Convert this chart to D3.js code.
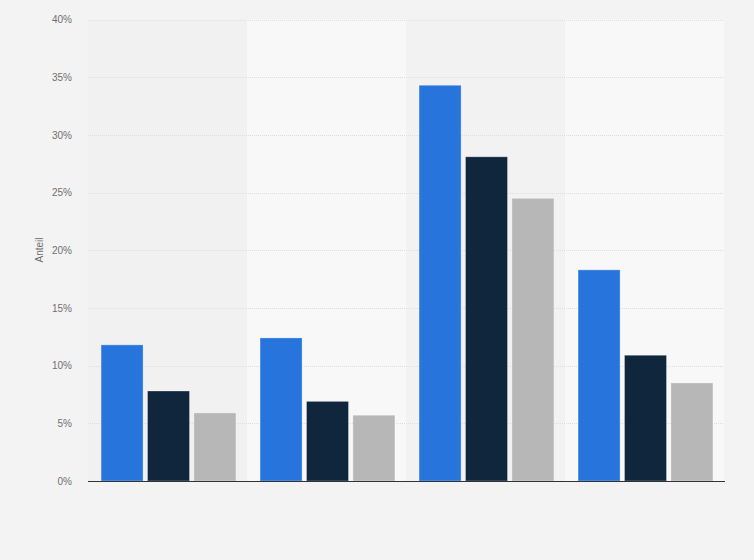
<!DOCTYPE html>
<html>
<head>
<meta charset="utf-8">
<script src="https://cdn.jsdelivr.net/npm/d3@7"></script>
<style>
  html, body { margin: 0; padding: 0; background: #f3f3f3; }
  svg { display: block; font-family: "Liberation Sans", Arial, sans-serif; }
</style>
</head>
<body>
<svg id="chart" width="754" height="560"></svg>
<script>
const categories = ["G1", "G2", "G3", "G4"];
const seriesNames = ["Serie 1", "Serie 2", "Serie 3"];
const series1 = [11.8, 12.4, 34.3, 18.3];
const series2 = [7.8, 6.9, 28.1, 10.9];
const series3 = [5.9, 5.7, 24.5, 8.5];
const yTicks = [0, 5, 10, 15, 20, 25, 30, 35, 40];
const colors = ["#2775dc", "#10263d", "#b7b7b7"];
const bandColors = ["#f1f1f1", "#f8f8f8", "#f2f2f2", "#f8f8f8"];

const allSeries = [series1, series2, series3];
const svg = d3.select("#chart");
const plotLeft = 88, plotRight = 724, plotTop = 19.5, plotBottom = 481;

const x0 = d3.scaleBand().domain(categories).range([plotLeft, plotRight]).paddingInner(0).paddingOuter(0);
const x1 = d3.scaleBand().domain(seriesNames).range([1, x0.bandwidth() + 1]).paddingInner(0.095).paddingOuter(0.26);
const y = d3.scaleLinear().domain([0, 40]).range([plotBottom, plotTop]);

// bands
svg.append("g").selectAll("rect").data(categories).join("rect")
  .attr("x", d => x0(d)).attr("y", plotTop)
  .attr("width", x0.bandwidth()).attr("height", plotBottom - plotTop)
  .attr("fill", (d, i) => bandColors[i]);

// grid
svg.append("g").selectAll("line").data(yTicks.filter(t => t > 0)).join("line")
  .attr("x1", plotLeft).attr("x2", plotRight)
  .attr("y1", d => Math.round(y(d)) + 0.5).attr("y2", d => Math.round(y(d)) + 0.5)
  .attr("stroke", "#dedede").attr("stroke-width", 1).attr("stroke-dasharray", "1,1");

// y axis labels
const yAxis = d3.axisLeft(y).tickValues(yTicks).tickFormat(d => d + "%").tickSize(0).tickPadding(0);
const ga = svg.append("g").attr("transform", `translate(${72},0)`).call(yAxis);
ga.select(".domain").remove();
ga.selectAll("text").attr("fill", "#707070").attr("font-size", "10px")
  .attr("font-family", "Liberation Sans, Arial, sans-serif");

// bars
const groups = svg.append("g").selectAll("g").data(categories).join("g")
  .attr("transform", d => `translate(${x0(d)},0)`);
groups.selectAll("rect").data((d, i) => allSeries.map((s, k) => ({ k, v: s[i] }))).join("rect")
  .attr("x", d => x1(seriesNames[d.k]))
  .attr("y", d => y(d.v))
  .attr("width", x1.bandwidth())
  .attr("height", d => plotBottom - y(d.v))
  .attr("fill", d => colors[d.k])
  .attr("stroke", "rgba(255,255,255,0.3)")
  .attr("stroke-width", 1);

// baseline
svg.append("line").attr("x1", plotLeft).attr("x2", plotRight + 1)
  .attr("y1", plotBottom + 0.5).attr("y2", plotBottom + 0.5)
  .attr("stroke", "#333").attr("stroke-width", 1.2);

// axis title
svg.append("text").attr("transform", `translate(43,250) rotate(-90)`)
  .attr("text-anchor", "middle").attr("font-size", "10px").attr("fill", "#707070")
  .text("Anteil");
</script>
</body>
</html>
